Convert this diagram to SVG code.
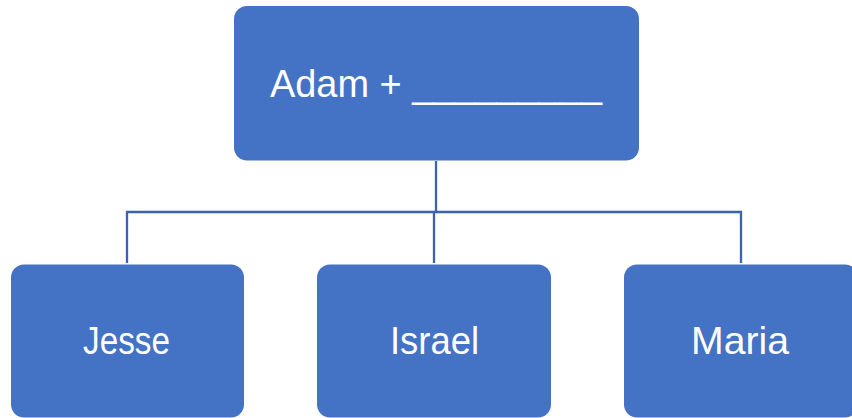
<svg xmlns="http://www.w3.org/2000/svg" width="852" height="418" viewBox="0 0 852 418">
<style>
.box{fill:#4472C4;}
.lbl{fill:#ffffff;font-family:"Liberation Sans",Arial,sans-serif;font-size:39px;}
.conn{fill:none;stroke:#3A62AE;stroke-width:2.3;}
</style>
<rect width="852" height="418" fill="#ffffff"/>
<g id="connectors">
<path class="conn" d="M436,161 V212"/>
<path class="conn" d="M127,263 V212 H741 V263"/>
<path class="conn" d="M434,212 V263"/>
</g>
<g id="node-adam">
<rect class="box" x="234" y="6" width="405" height="154.5" rx="13"/>
<text class="lbl" x="270" y="97" textLength="332" lengthAdjust="spacingAndGlyphs">Adam + _________</text>
</g>
<g id="node-jesse">
<rect class="box" x="11" y="264.5" width="233" height="153" rx="13"/>
<text class="lbl" x="83" y="354" textLength="87" lengthAdjust="spacingAndGlyphs">Jesse</text>
</g>
<g id="node-israel">
<rect class="box" x="317" y="264.5" width="234" height="153" rx="13"/>
<text class="lbl" x="390" y="354" textLength="89" lengthAdjust="spacingAndGlyphs">Israel</text>
</g>
<g id="node-maria">
<rect class="box" x="624" y="264.5" width="234" height="153" rx="13"/>
<text class="lbl" x="691" y="354" textLength="98" lengthAdjust="spacingAndGlyphs">Maria</text>
</g>
</svg>
